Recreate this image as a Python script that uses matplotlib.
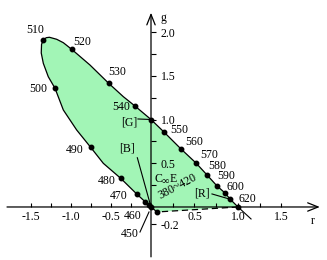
import numpy as np
import matplotlib
matplotlib.use("Agg")
import matplotlib.pyplot as plt

# ---------------- data ----------------
# spectral locus of the CIE 1931 rg chromaticity diagram, in wavelength order
locus_r = [0.069, 0.0, -0.025, -0.075, -0.179, -0.379, -0.596, -0.754, -0.929,
           -1.096, -1.200, -1.284, -1.346, -1.372, -1.368, -1.346, -1.310,
           -1.270, -1.179, -1.096, -0.991, -0.763, -0.529, -0.346, -0.200,
           0.0, 0.149, 0.345, 0.517, 0.644, 0.759, 0.851, 0.908, 1.0]
locus_g = [-0.057, 0.0, 0.023, 0.061, 0.149, 0.328, 0.499, 0.682, 0.880,
           1.109, 1.357, 1.489, 1.642, 1.760, 1.860, 1.909, 1.935,
           1.940, 1.917, 1.878, 1.802, 1.623, 1.414, 1.261, 1.154,
           1.0, 0.857, 0.663, 0.503, 0.366, 0.240, 0.160, 0.091, 0.0]

# marked points on the locus
dot_r = [0.069, 0.0, -0.025, -0.075, -0.179, -0.379, -0.754, -1.200, -1.346,
         -0.991, -0.529, -0.200, 0.0, 0.149, 0.345, 0.517, 0.644, 0.759,
         0.851, 0.908, 1.0]
dot_g = [-0.057, 0.0, 0.023, 0.061, 0.149, 0.328, 0.682, 1.357, 1.909,
         1.802, 1.414, 1.154, 1.0, 0.857, 0.663, 0.503, 0.366, 0.240,
         0.160, 0.091, 0.0]

# wavelength labels (text, r, g)
wl_text = ["510", "520", "530", "540", "500", "490", "480", "470", "460", "450",
           "550", "560", "570", "580", "590", "600", "620"]
wl_r = [-1.450, -0.866, -0.425, -0.375, -1.409, -0.950, -0.554, -0.409, -0.225,
        -0.262, 0.330, 0.494, 0.667, 0.759, 0.862, 0.966, 1.103]
wl_g = [2.023, 1.889, 1.546, 1.139, 1.345, 0.651, 0.301, 0.129, -0.103,
        -0.309, 0.885, 0.743, 0.594, 0.469, 0.354, 0.229, 0.091]

# primaries: label, label position, leader start, leader end
prim_text = ["[G]", "[B]", "[R]"]
prim_lr = [-0.271, -0.296, 0.586]
prim_lg = [0.963, 0.671, 0.149]
prim_sr = [-0.163, -0.171, 0.701]
prim_sg = [1.006, 0.563, 0.149]
prim_er = [0.0, 0.0, 0.890]
prim_eg = [1.0, 0.0, 0.094]

# axis ticks
xtick_major = [-1.5, -1.0, -0.5, 0.5, 1.0, 1.5]
xtick_labels = ["-1.5", "-1.0", "-0.5", "0.5", "1.0", "1.5"]
xtick_minor = [-1.25, -0.75, -0.25, 0.25, 0.75, 1.25]
ytick_major = [-0.2, 0.5, 1.0, 1.5, 2.0]
ytick_labels = ["-0.2", "0.5", "1.0", "1.5", "2.0"]
ytick_minor = [0.25, 0.75, 1.25, 1.75]

FILL = "#a2f5b6"

# ---------------- figure ----------------
plt.rcParams["font.family"] = ["Liberation Serif", "DejaVu Serif"]
plt.rcParams["font.size"] = 8.5
plt.rcParams["axes.unicode_minus"] = False

fig = plt.figure(figsize=(3.27, 2.60), dpi=100)
ax = fig.add_axes([0, 0, 1, 1])

LEFT = 80.0 / 87.0


def fwd(x):
    x = np.asarray(x, dtype=float)
    return np.where(x < 0, x * LEFT, x)


def inv(x):
    x = np.asarray(x, dtype=float)
    return np.where(x < 0, x / LEFT, x)


ax.set_xscale("function", functions=(fwd, inv))
ax.set_xlim(-1.8875, 2.023)
ax.set_ylim(-0.606, 2.366)

# spines at the origin, invisible (axis lines drawn as arrows)
for s in ["top", "left"]:
    ax.spines[s].set_visible(False)
ax.spines["bottom"].set_position(("data", 0))
ax.spines["right"].set_position(("data", 0))
ax.spines["bottom"].set_visible(False)
ax.spines["right"].set_visible(False)
ax.xaxis.set_ticks_position("bottom")
ax.yaxis.set_ticks_position("right")

ax.set_xticks(xtick_major)
ax.set_xticklabels(xtick_labels)
ax.set_xticks(xtick_minor, minor=True)
ax.set_yticks(ytick_major)
ax.set_yticklabels(ytick_labels)
ax.set_yticks(ytick_minor, minor=True)
ax.tick_params(axis="x", which="both", direction="in", length=3.2, width=0.8, pad=3)
ax.tick_params(axis="y", which="both", direction="out", length=3.4, width=0.8, pad=3.5,
               labelright=True, labelleft=False)
for lab in ax.get_yticklabels():
    lab.set_horizontalalignment("left")

# filled locus
ax.fill(locus_r, locus_g, facecolor=FILL, edgecolor="none", zorder=1)
ax.plot(locus_r, locus_g, color="black", lw=0.9, zorder=3)
# purple line (dashed)
ax.plot([locus_r[-1], locus_r[0]], [locus_g[-1], locus_g[0]], color="black", lw=0.9,
        dashes=(5, 3), zorder=3)
# extension of the r+g=1 line
ax.plot([1.0, 1.15], [0.0, -0.137], color="black", lw=0.8, zorder=3)

ax.plot(dot_r, dot_g, "o", color="black", ms=3.2, zorder=4)

# axes with arrows
arrow = dict(arrowstyle="->,head_length=0.75,head_width=0.3", lw=0.9, color="black",
             shrinkA=0, shrinkB=0, mutation_scale=10)
ax.annotate("", xy=(1.94, 0), xytext=(-1.80, 0), arrowprops=arrow, zorder=3)
ax.annotate("", xy=(0, 2.22), xytext=(0, -0.57), arrowprops=arrow, zorder=3)
ax.text(1.862, -0.16, "r", ha="center", va="center")
ax.text(0.138, 2.16, "g", ha="center", va="center")

# wavelength labels
for t, x, y in zip(wl_text, wl_r, wl_g):
    ax.text(x, y, t, ha="center", va="center", zorder=5)

# primaries with leaders
for t, lx, ly, sx, sy, ex, ey in zip(prim_text, prim_lr, prim_lg, prim_sr, prim_sg,
                                     prim_er, prim_eg):
    ax.text(lx, ly, t, ha="center", va="center", zorder=5)
    ax.plot([sx, ex], [sy, ey], color="black", lw=0.8, zorder=3)

# 450 leader
ax.plot([-0.1375, -0.025], [-0.286, -0.057], color="black", lw=0.8, zorder=3)

# white point label "C∞E" and 380~420 label
ax.text(0.080, 0.32, "C", ha="center", va="center", zorder=5)
ax.text(0.163, 0.290, "\u221e", ha="center", va="center", fontsize=7.5, zorder=5)
ax.text(0.250, 0.32, "E", ha="center", va="center", zorder=5)
ax.text(0.31, 0.229, "380~420", ha="center", va="center", rotation=28, zorder=5)

fig.savefig("out.png", dpi=100)
